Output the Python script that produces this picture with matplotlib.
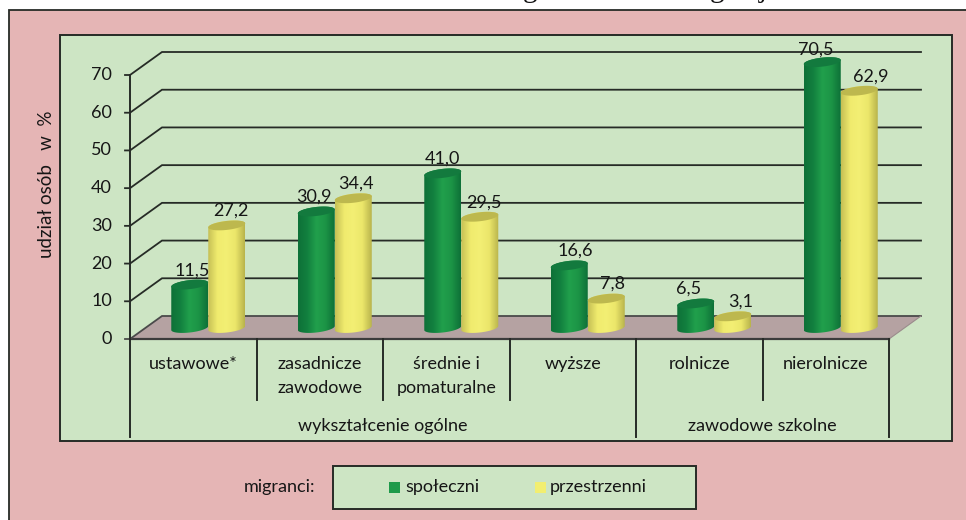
import numpy as np
import matplotlib
matplotlib.use("Agg")
import matplotlib.pyplot as plt
from matplotlib.colors import LinearSegmentedColormap
from matplotlib.patches import Polygon, Rectangle

plt.rcParams['font.family'] = ['Lato', 'DejaVu Sans']

categories = ["ustawowe*", "zasadnicze\nzawodowe", "średnie i\npomaturalne", "wyższe", "rolnicze", "nierolnicze"]
groups = ["wykształcenie ogólne", "zawodowe szkolne"]
group_edges = [0, 4, 6]
spoleczni = [11.5, 30.9, 41.0, 16.6, 6.5, 70.5]
przestrzenni = [27.2, 34.4, 29.5, 7.8, 3.1, 62.9]
yticks = [0, 10, 20, 30, 40, 50, 60, 70]
series_names = ["społeczni", "przestrzenni"]

W, H = 966, 520
X0, X1, Y0, Y70 = 130, 889, 339, 75   # polozenie osi w pikselach
PINK, PANEL, FLOOR, DARK = "#E5B5B5", "#CDE5C4", "#B5A2A2", "#262B26"
FS = 13
TXT = "#161616"

fig = plt.figure(figsize=(W / 100, H / 100), dpi=100, facecolor="white")

# tlo i ramki w pikselach
bg = fig.add_axes([0, 0, 1, 1])
bg.set_xlim(0, W)
bg.set_ylim(H, 0)
bg.axis("off")
bg.add_patch(Rectangle((8.5, 9.5), W, H, fc=PINK, ec=DARK, lw=1.3))
bg.add_patch(Rectangle((60, 35), 892, 406, fc=PANEL, ec=DARK, lw=1.4))
bg.add_patch(Rectangle((333, 465.5), 363, 43.5, fc=PANEL, ec=DARK, lw=1.4))

# ucięty tytuł - widać tylko same dolne części liter
for ch, x in zip("ggj", [530, 717, 763]):
    bg.text(x, -3, ch, family="Liberation Serif", fontsize=21, ha="center", va="baseline", color="#111111")

bg.text(47, 184, "udział osób   w  %", rotation=90, fontsize=13.5, ha="center", va="center", color=TXT)
bg.text(315, 487, "migranci:", fontsize=FS, ha="right", va="center", color=TXT)
bg.add_patch(Rectangle((389, 482), 11, 11, fc="#1E9A4A", ec="none"))
bg.add_patch(Rectangle((535, 482), 11, 11, fc="#F2EE70", ec="none"))
bg.text(405, 487, series_names[0], fontsize=FS, va="center", color=TXT)
bg.text(550, 487, series_names[1], fontsize=FS, va="center", color=TXT)

# wlasciwy wykres
ax = fig.add_axes([X0 / W, 1 - Y0 / H, (X1 - X0) / W, (Y0 - Y70) / H])
ax.patch.set_alpha(0)
ax.axis("off")
px_x = (X1 - X0) / 6
px_y = (Y0 - Y70) / 70
depth_x = 32 / px_x
depth_y = 23 / px_y


def yp(py):
    return (Y0 - py) / px_y


ax.add_patch(Polygon([(0, 0), (depth_x, depth_y), (6 + depth_x, depth_y), (6, 0)],
                     fc=FLOOR, ec="none", clip_on=False, zorder=1))
ax.plot([0, 6], [0, 0], color="#3c3c3c", lw=1.6, clip_on=False, zorder=2)
for v in yticks:
    ax.plot([-5 / px_x, 0, depth_x, 6 + depth_x], [v, v, v + depth_y, v + depth_y],
            color=DARK if v else "#4a4a4a", lw=1.3, clip_on=False, zorder=2, solid_joinstyle="miter")
    ax.text(-18 / px_x, v, str(v), fontsize=FS, ha="right", va="center", color=TXT)
ax.plot([depth_x + 6, 6], [depth_y, 0], color="#9a8c8c", lw=0.8, clip_on=False, zorder=2)

# os Y i podzialka kategorii
ax.plot([0, 0], [70, yp(437)], color=DARK, lw=1.4, clip_on=False, zorder=2)
for i in range(1, 7):
    bottom = 437 if i in group_edges else 400
    ax.plot([i, i], [0, yp(bottom)], color=DARK, lw=1.4, clip_on=False, zorder=2)

for i, name in enumerate(categories):
    ax.text(i + 0.5, yp(376 if "\n" in name else 364), name, fontsize=FS, ha="center", va="center",
            linespacing=1.55, color=TXT)
for i, name in enumerate(groups):
    ax.text((group_edges[i] + group_edges[i + 1]) / 2, yp(426), name, fontsize=FS, ha="center", va="center",
            color=TXT)

green_cm = LinearSegmentedColormap.from_list("g", ["#0E7138", "#12803F", "#21A04C", "#1C9446", "#0E7138"])
yellow_cm = LinearSegmentedColormap.from_list("y", ["#C6C055", "#F0EB6E", "#F3EF74", "#EBE66A", "#B9B44C"])

bar_w = 37 / px_x
base = yp(328)
rx, ry, tilt = bar_w / 2, 4.5 / px_y, 2 / px_y
t = np.linspace(0, 2 * np.pi, 80)


def cylinder(cx, value, cmap, top_color, z):
    top = base + value
    low = t[(t >= np.pi) & (t <= 2 * np.pi)]
    up = t[t <= np.pi]
    body = list(zip(cx + rx * np.cos(low), base + ry * np.sin(low) + tilt * np.cos(low)))
    body += list(zip(cx + rx * np.cos(up), top + ry * np.sin(up) + tilt * np.cos(up)))
    clip = Polygon(body, fc="none", ec="none", transform=ax.transData, clip_on=False)
    ax.add_patch(clip)
    im = ax.imshow(np.linspace(0, 1, 64)[None, :], extent=(cx - rx, cx + rx, base - ry * 2, top + ry * 2),
                   cmap=cmap, aspect="auto", zorder=z, interpolation="bilinear")
    im.set_clip_box(fig.bbox)
    im.set_clip_path(clip)
    ax.add_patch(Polygon(list(zip(cx + rx * np.cos(t), top + ry * np.sin(t) + tilt * np.cos(t))),
                         fc=top_color, ec="none", zorder=z + 0.1, clip_on=False))


label_dx_g = [2, -2, 0, 6, -7, -7]
label_dx_y = [4, 3, 4, 6, 8, 11]
label_dy_g = [14.5, 14.5, 14.5, 14.5, 14.5, 12.5]
for i in range(6):
    cx_g = i + 0.5 + 15 / px_x - rx
    cx_y = i + 0.5 + 15 / px_x + rx
    cylinder(cx_g, spoleczni[i], green_cm, "#137A3E", 3 + i * 0.01)
    cylinder(cx_y, przestrzenni[i], yellow_cm, "#BDB84E", 4 + i * 0.01)
    for cx, v, dx, dy in ((cx_g, spoleczni[i], label_dx_g[i], label_dy_g[i]),
                          (cx_y, przestrzenni[i], label_dx_y[i], 14.5)):
        ax.annotate(f"{v:.1f}".replace(".", ","), (cx, base + v), xytext=(dx * 0.72, dy * 0.72),
                    textcoords="offset points", fontsize=FS, ha="center", va="center",
                    color=TXT, zorder=6, annotation_clip=False)

ax.set_xlim(0, 6)
ax.set_ylim(0, 70)

fig.savefig("out.png", dpi=100)
